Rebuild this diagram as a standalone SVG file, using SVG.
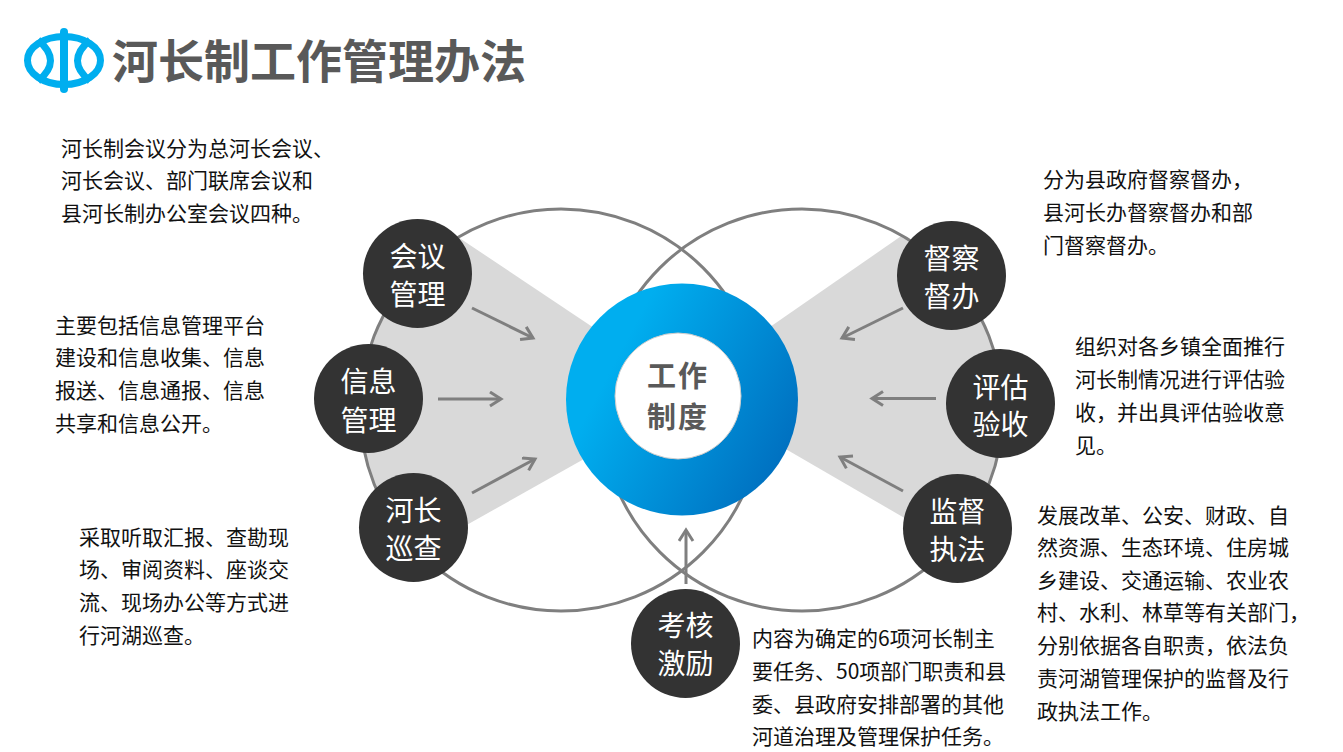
<svg xmlns="http://www.w3.org/2000/svg" width="1343" height="752" viewBox="0 0 1343 752">
<style>
text{font-family:"Noto Sans CJK SC","Noto Sans",sans-serif}
.b{font-size:21px;fill:#111}
.n{font-size:28px;fill:#fff;text-anchor:middle}
.nc{fill:#333}
.big{fill:none;stroke:#7f7f7f;stroke-width:3}
.ar{fill:none;stroke:#7f7f7f;stroke-width:3}
</style>
<defs>
<linearGradient id="g" x1="0.1" y1="0.3" x2="0.95" y2="0.75"><stop offset="0.12" stop-color="#00aeef"/><stop offset="1" stop-color="#0070c0"/></linearGradient>
<clipPath id="cl"><circle cx="561" cy="410" r="201"/></clipPath>
<clipPath id="cr"><circle cx="802" cy="410" r="201"/></clipPath>
<marker id="a" markerUnits="userSpaceOnUse" markerWidth="20" markerHeight="20" refX="13" refY="8" orient="auto"><path d="M2 1L13 8L2 15" fill="none" stroke="#7f7f7f" stroke-width="3"/></marker>
</defs>
<rect width="1343" height="752" fill="#fff"/>
<g id="logo" fill="none" stroke="#00aeef">
<ellipse cx="64" cy="60.500" rx="36.500" ry="24" stroke-width="7"/>
<path d="M38 40Q63 61 38 81M90 40Q65 61 90 81" stroke-width="7"/>
<path d="M64 32V89" stroke-width="8" stroke-linecap="round"/>
</g>
<text id="title" x="112" y="78" font-size="46" font-weight="700" fill="#595959">河长制工作管理办法</text>
<g id="fans">
<path clip-path="url(#cl)" d="M440 225L600 332V450L440 540H300V225Z" fill="#d9d9d9"/>
<path clip-path="url(#cr)" d="M920 223L760 334V434L920 527H1050V223Z" fill="#d9d9d9"/>
</g>
<g id="connectors">
<circle class="big" cx="561" cy="410" r="201"/>
<circle class="big" cx="802" cy="410" r="201"/>
</g>
<g id="center">
<circle cx="682" cy="399.500" r="116" fill="url(#g)"/>
<circle cx="678" cy="396" r="63" fill="#fff" stroke="#ccc" stroke-width="1"/>
<text font-size="29" font-weight="700" letter-spacing="2" fill="#595959" text-anchor="middle"><tspan x="678" y="387">工作</tspan><tspan x="678" y="428">制度</tspan></text>
</g>
<g id="arrows">
<path class="ar" marker-end="url(#a)" d="M472 308L533 338"/>
<path class="ar" marker-end="url(#a)" d="M438 399H501"/>
<path class="ar" marker-end="url(#a)" d="M472 493L535 459"/>
<path class="ar" marker-end="url(#a)" d="M903 308L842 338"/>
<path class="ar" marker-end="url(#a)" d="M936 398.500H872"/>
<path class="ar" marker-end="url(#a)" d="M903 491L840 457"/>
<path class="ar" marker-end="url(#a)" d="M686 584V530"/>
</g>
<g id="n1"><circle class="nc" cx="417.500" cy="273.500" r="54.500"/><text class="n" x="417.500" y="267">会议</text><text class="n" x="417.500" y="305">管理</text></g>
<g id="n2"><circle class="nc" cx="368.500" cy="398.500" r="54.500"/><text class="n" x="368.500" y="392">信息</text><text class="n" x="368.500" y="431">管理</text></g>
<g id="n3"><circle class="nc" cx="413.500" cy="527.500" r="54.500"/><text class="n" x="413.500" y="521">河长</text><text class="n" x="413.500" y="559">巡查</text></g>
<g id="n4"><circle class="nc" cx="951.500" cy="275.500" r="54.500"/><text class="n" x="951.500" y="269">督察</text><text class="n" x="951.500" y="307">督办</text></g>
<g id="n5"><circle class="nc" cx="1000.500" cy="403.500" r="54.500"/><text class="n" x="1000.500" y="398">评估</text><text class="n" x="1000.500" y="435">验收</text></g>
<g id="n6"><circle class="nc" cx="957.500" cy="528.500" r="54.500"/><text class="n" x="957.500" y="522">监督</text><text class="n" x="957.500" y="560">执法</text></g>
<g id="n7"><circle class="nc" cx="685.500" cy="643.500" r="54.500"/><text class="n" x="685.500" y="636">考核</text><text class="n" x="685.500" y="674">激励</text></g>
<g id="desc">
<text class="b" x="61" y="156">河长制会议分为总河长会议、</text>
<text class="b" x="61" y="188">河长会议、部门联席会议和</text>
<text class="b" x="61" y="221">县河长制办公室会议四种。</text>
<text class="b" x="55" y="333">主要包括信息管理平台</text>
<text class="b" x="55" y="365">建设和信息收集、信息</text>
<text class="b" x="55" y="398">报送、信息通报、信息</text>
<text class="b" x="55" y="431">共享和信息公开。</text>
<text class="b" x="79" y="545">采取听取汇报、查勘现</text>
<text class="b" x="79" y="577">场、审阅资料、座谈交</text>
<text class="b" x="79" y="610">流、现场办公等方式进</text>
<text class="b" x="79" y="643">行河湖巡查。</text>
<text class="b" x="1043" y="187">分为县政府督察督办，</text>
<text class="b" x="1043" y="220">县河长办督察督办和部</text>
<text class="b" x="1043" y="253">门督察督办。</text>
<text class="b" x="1075" y="354">组织对各乡镇全面推行</text>
<text class="b" x="1075" y="387">河长制情况进行评估验</text>
<text class="b" x="1075" y="420">收，并出具评估验收意</text>
<text class="b" x="1075" y="453">见。</text>
<text class="b" x="1037" y="523">发展改革、公安、财政、自</text>
<text class="b" x="1037" y="555">然资源、生态环境、住房城</text>
<text class="b" x="1037" y="588">乡建设、交通运输、农业农</text>
<text class="b" x="1037" y="620">村、水利、林草等有关部门，</text>
<text class="b" x="1037" y="653">分别依据各自职责，依法负</text>
<text class="b" x="1037" y="686">责河湖管理保护的监督及行</text>
<text class="b" x="1037" y="719">政执法工作。</text>
<text class="b" x="752" y="646">内容为确定的6项河长制主</text>
<text class="b" x="752" y="679">要任务、50项部门职责和县</text>
<text class="b" x="752" y="712">委、县政府安排部署的其他</text>
<text class="b" x="752" y="744">河道治理及管理保护任务。</text>
</g>
</svg>
